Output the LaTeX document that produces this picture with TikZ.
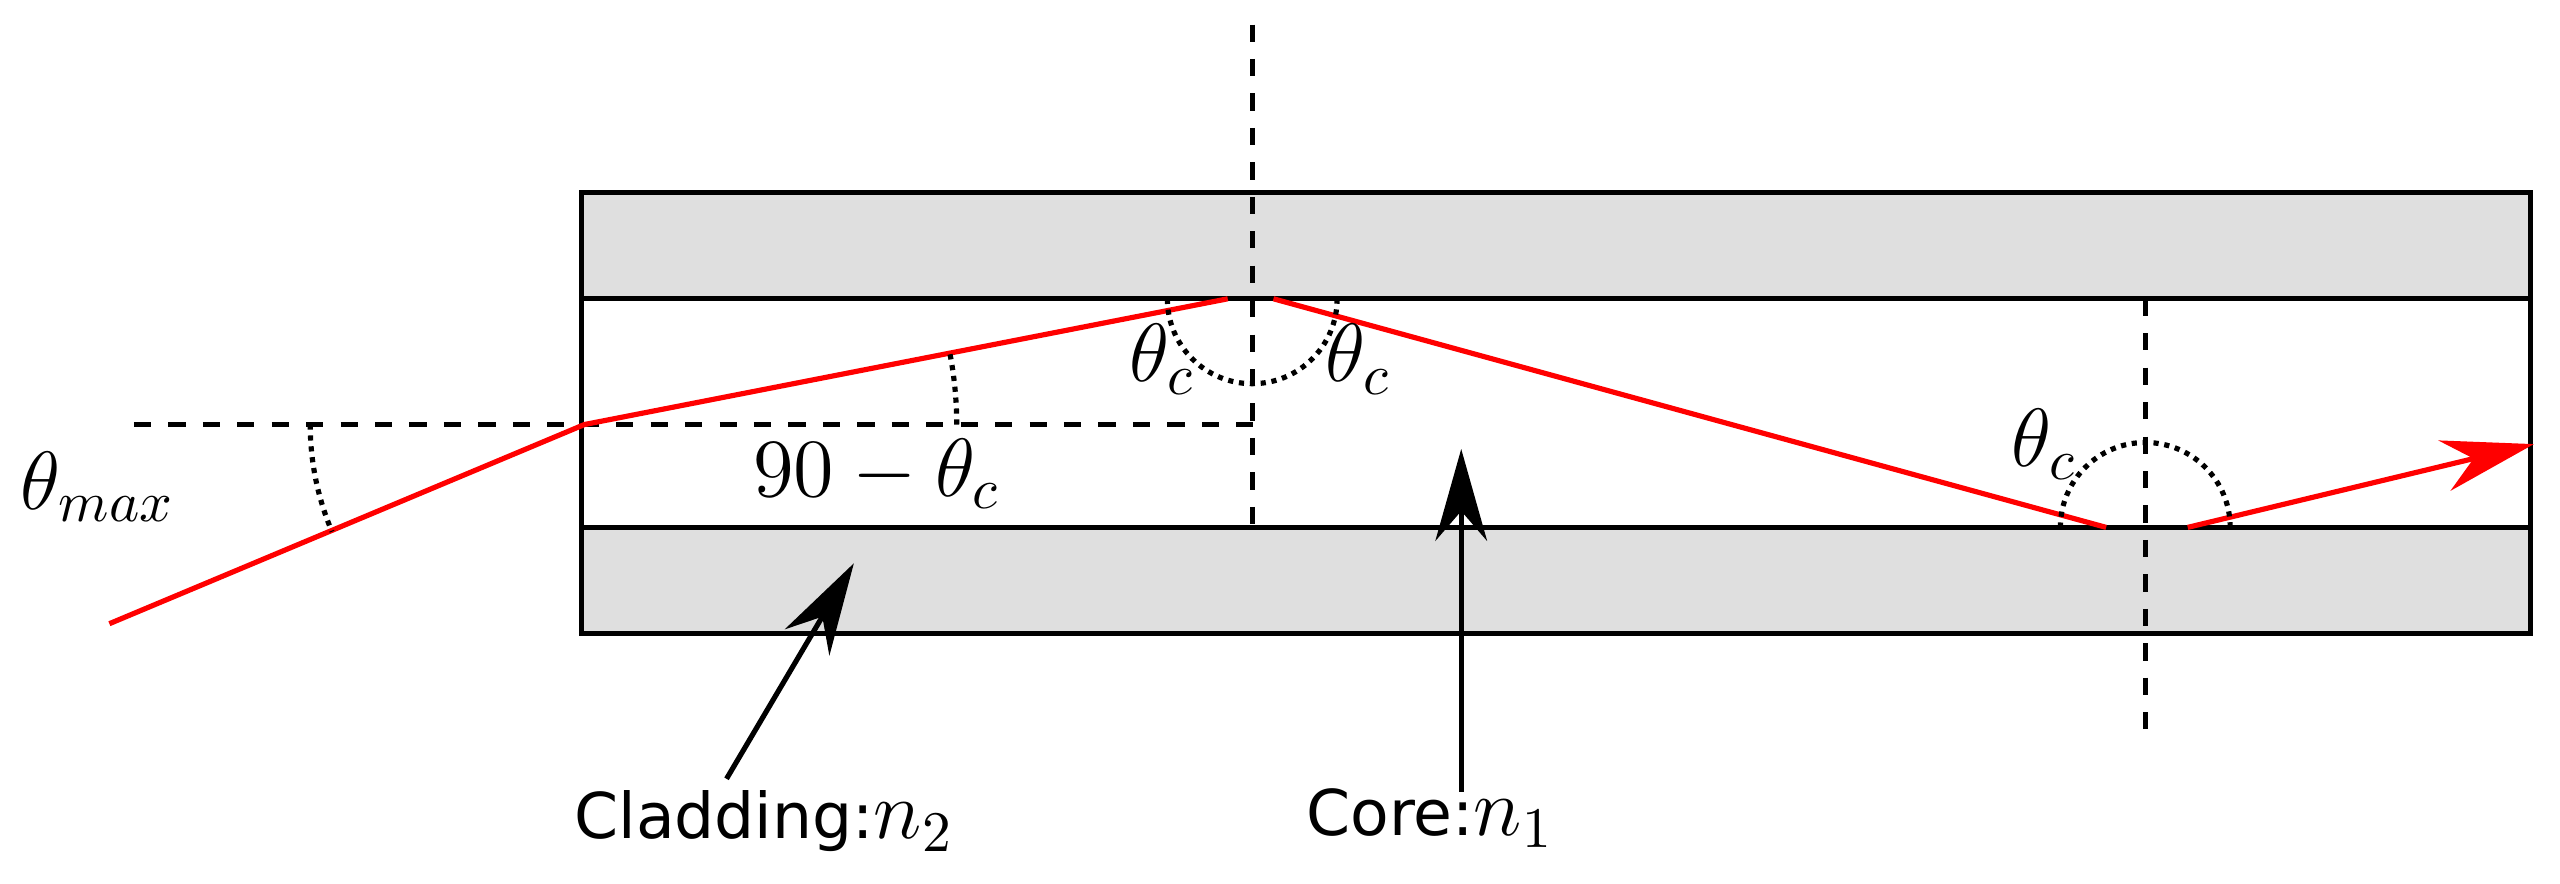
\documentclass[tikz,border=0pt]{standalone}
\usepackage{fontspec}
\setsansfont{DejaVu Sans}
\usetikzlibrary{arrows.meta}
\begin{document}
\begin{tikzpicture}[x=0.01cm,y=-0.01cm,
  box/.style={draw=black,line width=0.9pt},
  dashln/.style={dashed,line width=0.8pt},
  ray/.style={red,line width=0.9pt},
  arcln/.style={densely dotted,line width=0.9pt},
  lab/.style={font=\fontsize{14}{16}\selectfont},
  pointer/.style={-{Stealth[length=16pt,width=9pt]},line width=0.9pt}]
\useasboundingbox (0,0) rectangle (1568,541);
\fill[gray!25] (356,118) rectangle (1550,183);
\fill[gray!25] (356,323) rectangle (1550,388);
\draw[box] (356,118) rectangle (1550,388);
\draw[box] (356,183) -- (1550,183);
\draw[box] (356,323) -- (1550,323);
\draw[dashln] (82,260) -- (768,260);
\draw[dashln] (767,15) -- (767,323);
\draw[dashln] (1314,183) -- (1314,453);
\coordinate (p0) at (67,382);
\coordinate (p1) at (358,260);
\draw[ray] (p0) -- (p1) -- (752,183);
\draw[ray] (780,183) -- (1290,323);
\draw[ray,-{Stealth[length=16pt,width=9pt]}] (1340,323) -- (1552,272);
\draw[arcln] (715,183) arc (180:0:52);
\draw[arcln] (1366,323) arc (0:-180:52);
\draw[arcln] (586,260) arc (0:-11:228);
\draw[arcln] (190,260) arc (180:157:168);
\node[lab] (tc1) at (712,220) {$\theta_c$};
\node[lab] (tc2) at (832,220) {$\theta_c$};
\node[lab] (tc3) at (1252,272) {$\theta_c$};
\node[lab] (t90) at (537,290) {$90-\theta_c$};
\node[lab] (tmax) at (60,298) {$\theta_{max}$};
\node[font=\fontsize{11}{14}\sffamily] (clad) at (468,503) {Cladding:\fontsize{14}{16}\selectfont$n_2$};
\node[font=\fontsize{11}{14}\sffamily] (core) at (876,501) {Core:\fontsize{14}{16}\selectfont$n_1$};
\coordinate (ca) at (523,345);
\coordinate (ka) at (895,275);
\draw[pointer] (445,477) -- (ca);
\draw[pointer] (895,485) -- (ka);
\end{tikzpicture}
\end{document}
